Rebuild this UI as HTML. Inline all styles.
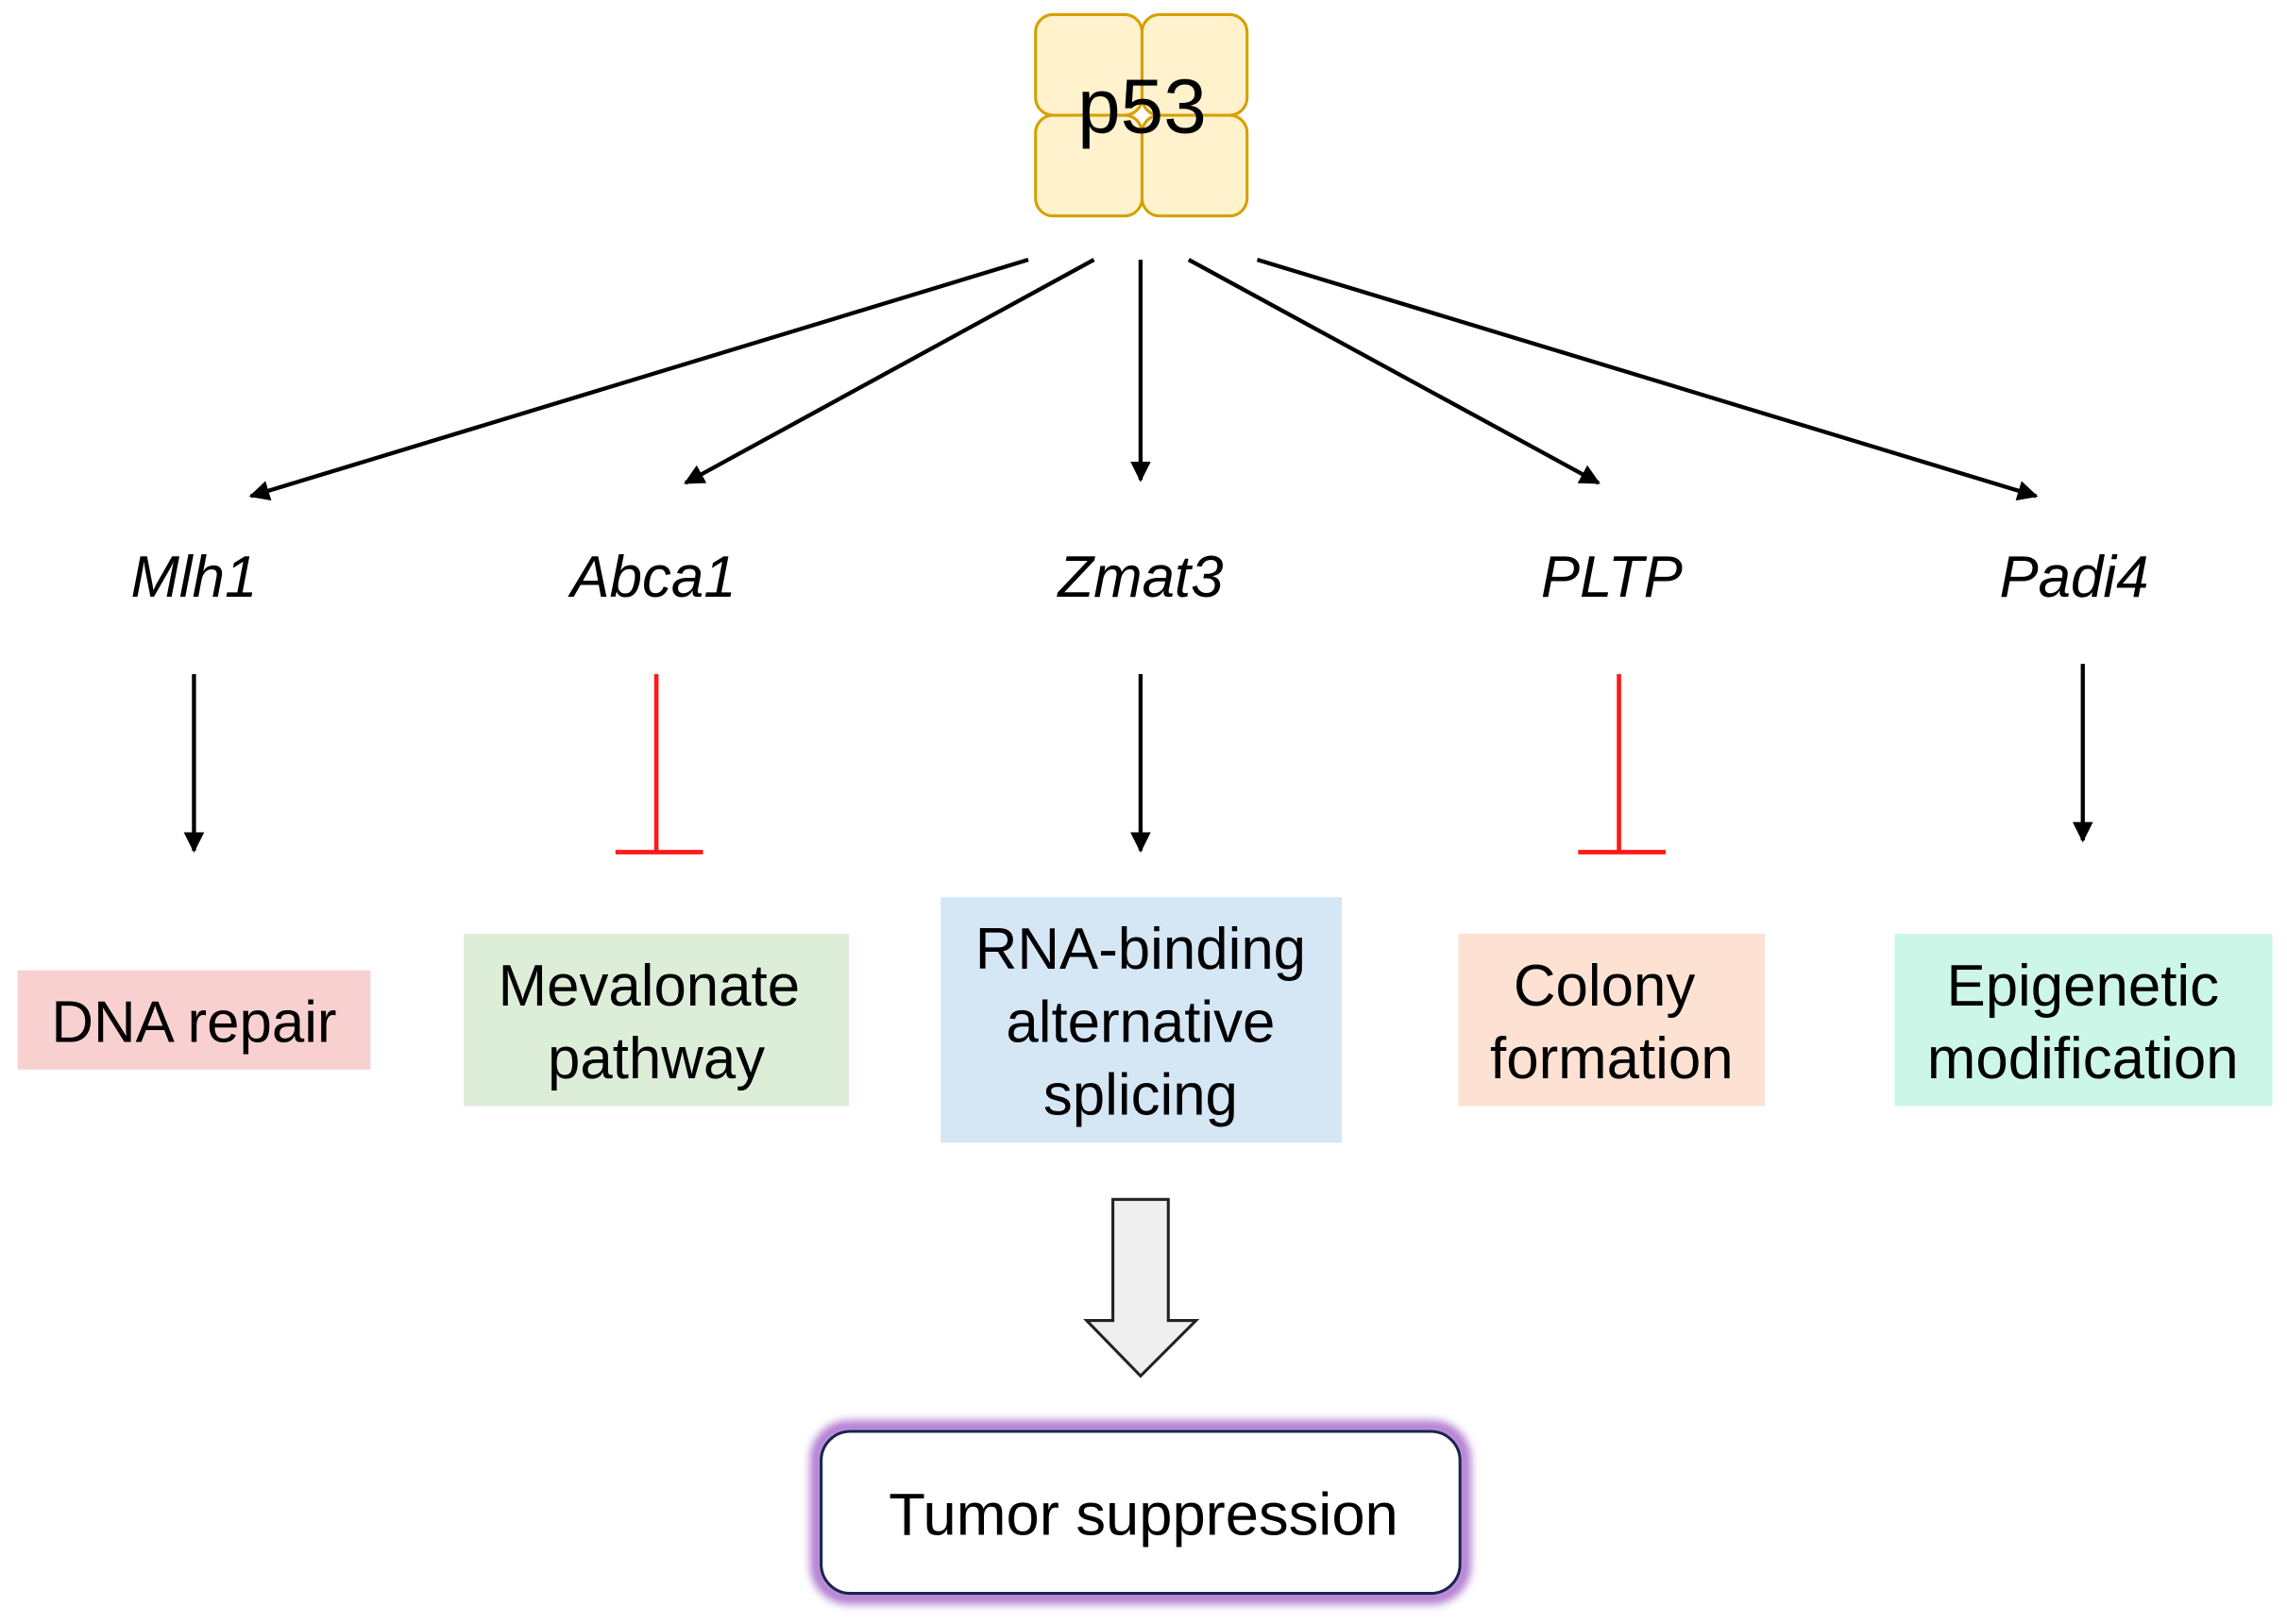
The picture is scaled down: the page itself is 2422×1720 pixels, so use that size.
<!DOCTYPE html>
<html><head><meta charset="utf-8"><style>
html,body{margin:0;padding:0;background:#fff;}
svg{display:block;}
text{font-family:"Liberation Sans",Arial,sans-serif;fill:#000;}
</style></head><body>
<svg width="2422" height="1720" viewBox="0 0 1568 1113" preserveAspectRatio="none" xmlns="http://www.w3.org/2000/svg">
<defs>
<marker id="ah" viewBox="0 0 10 10" refX="9" refY="5" markerWidth="5" markerHeight="5" orient="auto-start-reverse" markerUnits="strokeWidth">
<path d="M0,0 L10,5 L0,10 z" fill="#000"/></marker>
<filter id="glow" x="-10%" y="-20%" width="120%" height="140%"><feGaussianBlur stdDeviation="3"/></filter>
</defs>
<!-- p53 -->
<g fill="#fff2cc" stroke="#d6a000" stroke-width="2">
<rect x="710" y="10" width="73" height="69" rx="12"/>
<rect x="783" y="10" width="72" height="69" rx="12"/>
<rect x="710" y="79" width="73" height="69" rx="12"/>
<rect x="783" y="79" width="72" height="69" rx="12"/>
</g>
<text x="783" y="91" font-size="53" text-anchor="middle">p53</text>
<!-- top arrows -->
<g stroke="#000" stroke-width="2.8" fill="none" marker-end="url(#ah)">
<line x1="705" y1="178" x2="172" y2="340"/>
<line x1="750" y1="178" x2="470" y2="331"/>
<line x1="782" y1="178" x2="782" y2="329"/>
<line x1="815" y1="178" x2="1096" y2="331"/>
<line x1="862" y1="178" x2="1396" y2="340"/>
</g>
<!-- gene labels -->
<g font-size="40" font-style="italic" text-anchor="middle">
<text x="133" y="409">Mlh1</text>
<text x="448" y="409">Abca1</text>
<text x="782" y="409">Zmat3</text>
<text x="1105" y="409">PLTP</text>
<text x="1422" y="409">Padi4</text>
</g>
<!-- second level -->
<g stroke="#000" stroke-width="2.8" marker-end="url(#ah)">
<line x1="133" y1="462" x2="133" y2="583"/>
<line x1="782" y1="462" x2="782" y2="583"/>
<line x1="1428" y1="455" x2="1428" y2="576"/>
</g>
<g stroke="#ff1a1a" stroke-width="3">
<line x1="450" y1="462" x2="450" y2="584"/><line x1="422" y1="584" x2="482" y2="584"/>
<line x1="1110" y1="462" x2="1110" y2="584"/><line x1="1082" y1="584" x2="1142" y2="584"/>
</g>
<!-- boxes -->
<rect x="12" y="665" width="242" height="68" fill="#f9d0d0"/>
<rect x="318" y="640" width="264" height="118" fill="#dcedd8"/>
<rect x="645" y="615" width="275" height="168" fill="#d5e6f5"/>
<rect x="1000" y="640" width="210" height="118" fill="#fde1d2"/>
<rect x="1299" y="640" width="259" height="118" fill="#ccf6e8"/>
<g font-size="40" text-anchor="middle">
<text x="133" y="714">DNA repair</text>
<text x="445" y="689">Mevalonate</text>
<text x="450" y="739">pathway</text>
<text x="782" y="664">RNA-binding</text>
<text x="782" y="714">alternative</text>
<text x="782" y="764">splicing</text>
<text x="1100" y="689">Colony</text>
<text x="1105" y="739">formation</text>
<text x="1428" y="689">Epigenetic</text>
<text x="1428" y="739">modification</text>
</g>
<!-- big arrow -->
<path d="M763,822 L801,822 L801,905 L820,905 L782,943 L745,905 L763,905 Z" fill="#eeeeee" stroke="#222" stroke-width="2"/>
<!-- tumor box -->
<rect x="560" y="978" width="444" height="117" rx="22" fill="none" stroke="#b07ad0" stroke-width="9" filter="url(#glow)"/>
<rect x="563" y="981" width="438" height="111" rx="20" fill="#fff" stroke="#1a2550" stroke-width="2"/>
<text x="784" y="1052" font-size="41" text-anchor="middle">Tumor suppression</text>
</svg>
</body></html>
